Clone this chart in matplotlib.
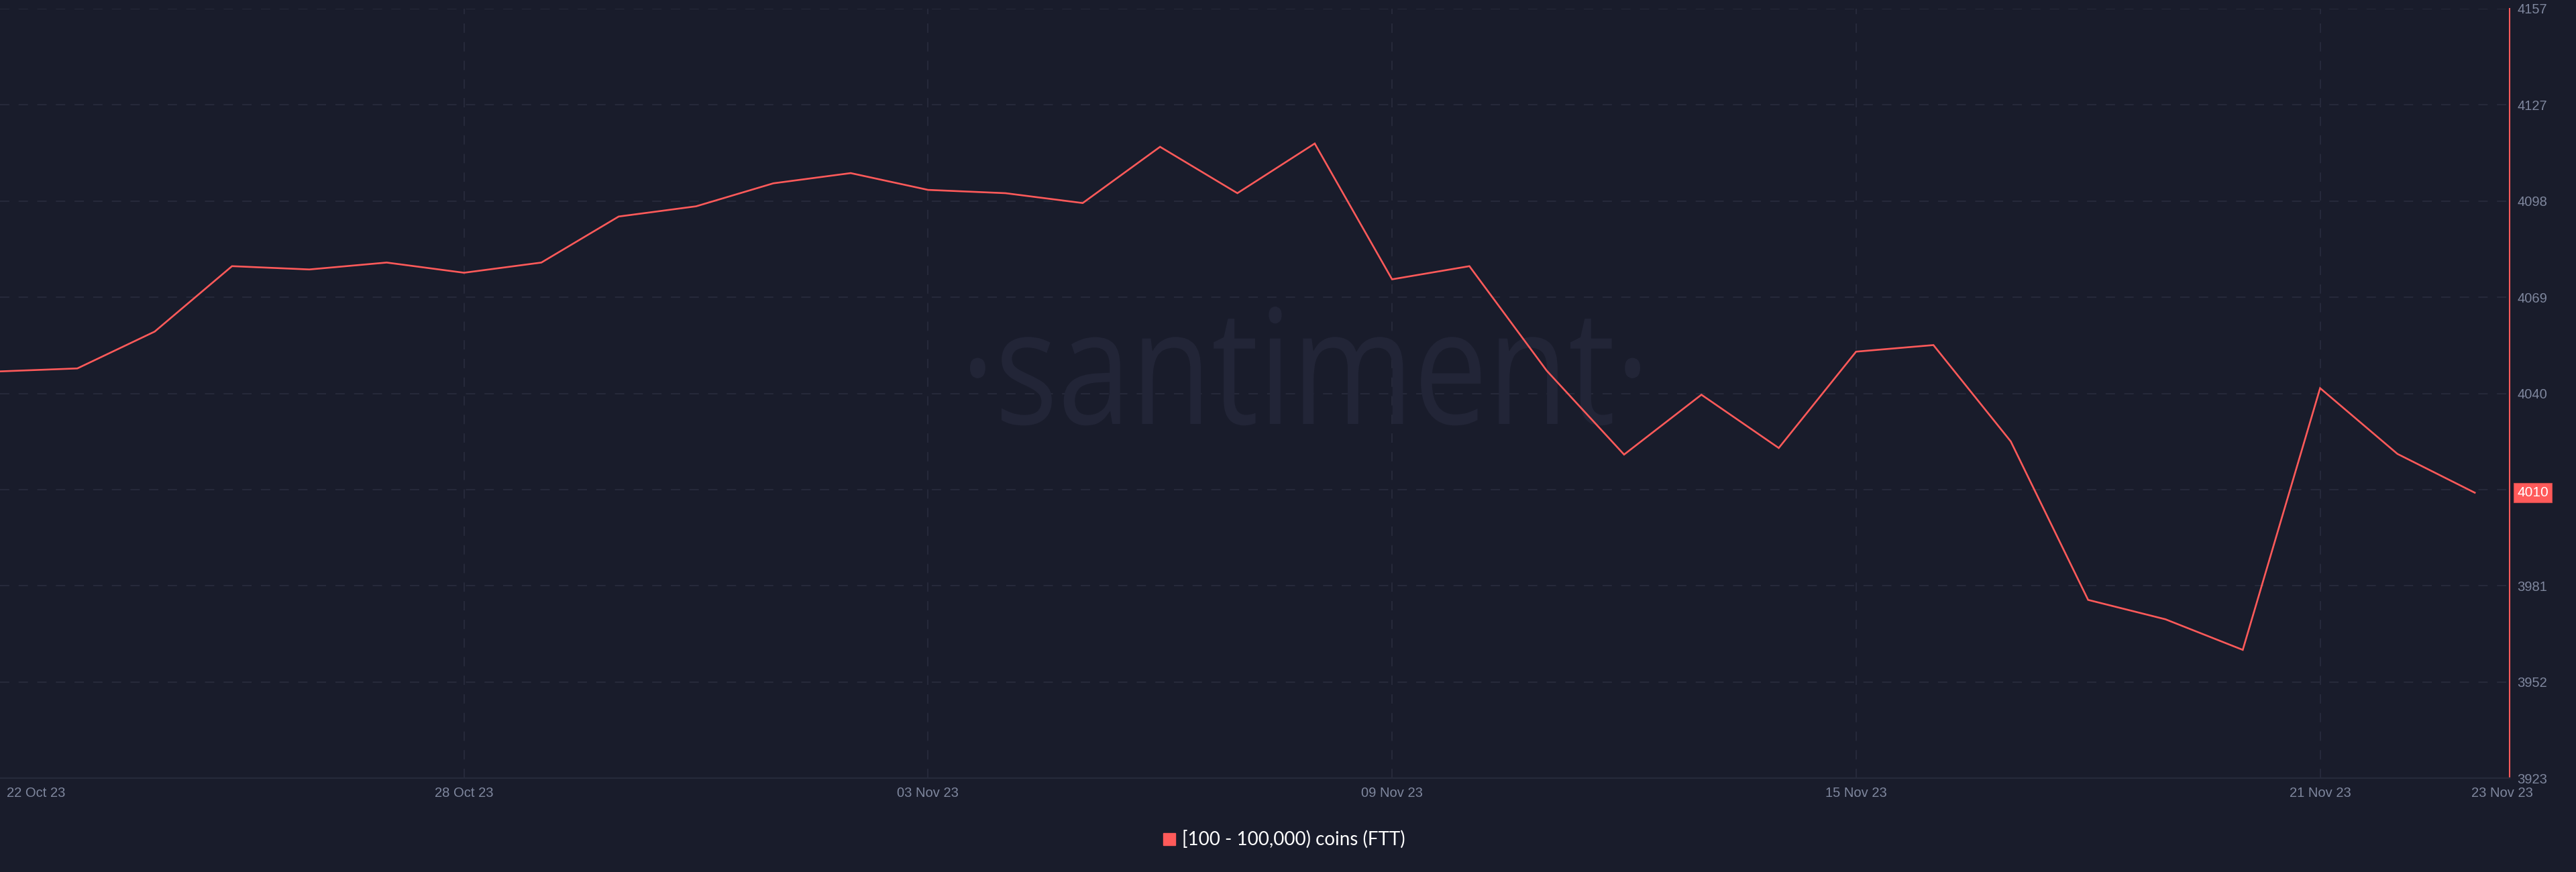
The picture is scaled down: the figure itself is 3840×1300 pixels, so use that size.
import numpy as np
import matplotlib
matplotlib.use("Agg")
import matplotlib.pyplot as plt
import matplotlib.dates as mdates
from matplotlib.textpath import TextPath
from matplotlib.patches import PathPatch, Rectangle
from matplotlib.font_manager import FontProperties
from matplotlib.transforms import Affine2D, IdentityTransform, blended_transform_factory

# data: daily holders count, 22 Oct 23 .. 23 Nov 23
dates = np.arange(np.datetime64("2023-10-22"), np.datetime64("2023-11-24"))
holders = [4046.7, 4047.6, 4058.8, 4078.7, 4077.7, 4079.8, 4076.7, 4079.8,
           4093.8, 4096.9, 4103.9, 4107.0, 4101.9, 4100.9, 4097.9, 4115.0,
           4100.9, 4116.0, 4074.7, 4078.7, 4046.9, 4021.4, 4039.6, 4023.4,
           4052.7, 4054.7, 4025.4, 3977.2, 3971.3, 3962.0, 4041.6, 4021.6,
           4009.8]
series_label = "[100 - 100,000) coins (FTT)"
y_min, y_max = 3923, 4157
x_tick_dates = ["2023-10-28", "2023-11-03", "2023-11-09", "2023-11-15", "2023-11-21"]

BG = "#191c2b"
GRID = "#272a3b"
RED = "#ff5a5a"
TXT = "#7f879e"

plt.rcParams["lines.scale_dashes"] = False
W, H = 3840, 1300
fig = plt.figure(figsize=(W / 100, H / 100), dpi=100, facecolor=BG)
ax = fig.add_axes([0, 140 / H, 3741 / W, 1147 / H], facecolor=BG)
ax.set_axisbelow(True)

x = dates.astype("datetime64[D]").astype(object)
ax.plot(x, holders, color=RED, lw=1.9, zorder=3, solid_joinstyle="miter")

x0 = mdates.date2num(np.datetime64("2023-10-22"))
ax.set_xlim(x0, x0 + 32.45)
ax.set_ylim(y_min, y_max)

yt = np.linspace(y_min, y_max, 9)
ax.set_yticks(yt)
ax.set_yticklabels([str(int(np.floor(v))) for v in yt])
ax.yaxis.tick_right()
ax.tick_params(axis="y", length=0, pad=8, labelsize=14.5, labelcolor=TXT)
for lab in ax.get_yticklabels():
    lab.set_fontfamily("Liberation Sans")

xt = [mdates.date2num(np.datetime64(d)) for d in x_tick_dates]
ax.set_xticks(xt)
ax.xaxis.set_major_formatter(mdates.DateFormatter("%d %b %y"))
ax.tick_params(axis="x", length=0, pad=9, labelsize=14.5, labelcolor=TXT)
for lab in ax.get_xticklabels():
    lab.set_fontfamily("Liberation Sans")

ax.grid(True, color=GRID, lw=1.4, dashes=(10, 10))

for s in ["left", "top"]:
    ax.spines[s].set_visible(False)
ax.spines["bottom"].set_color("#262a3b")
ax.spines["bottom"].set_linewidth(1.6)
ax.spines["right"].set_color(RED)
ax.spines["right"].set_linewidth(1.5)

# first and last date labels
tr = blended_transform_factory(ax.transData, ax.transAxes)
ax.annotate("22 Oct 23", xy=(x0, 0), xycoords=tr, xytext=(7, -9),
            textcoords="offset points", ha="left", va="top", fontsize=14.5,
            color=TXT, family="Liberation Sans", annotation_clip=False)
ax.annotate("23 Nov 23", xy=(x0 + 32, 0), xycoords=tr, xytext=(29.5, -9),
            textcoords="offset points", ha="center", va="top", fontsize=14.5,
            color=TXT, family="Liberation Sans", annotation_clip=False)

# last value tag
ax.annotate(str(int(round(holders[-1]))), xy=(1, holders[-1]),
            xycoords=("axes fraction", "data"), xytext=(8, 0),
            textcoords="offset points", ha="left", va="center", fontsize=15,
            color="white", family="Liberation Sans", annotation_clip=False,
            zorder=6,
            bbox=dict(boxstyle="square,pad=0.25", fc=RED, ec="#c94848", lw=0.8))

# watermark
tp = TextPath((0, 0), "·santiment·", size=238, prop=FontProperties(family="Open Sans"))
bb = tp.get_extents()
sx = 999 / bb.width
wm = Affine2D().scale(sx, 1.0).translate(1446 - bb.x0 * sx, H - 632).transform_path(tp)
ax.add_artist(PathPatch(wm, facecolor="#222537", edgecolor="none",
                        transform=IdentityTransform(), zorder=1))

# legend at bottom
fig.patches.append(Rectangle((1734 / W, 1 - 1260 / H), 18 / W, 18 / H,
                             transform=fig.transFigure, color=RED))
fig.text(1762 / W, 1 - 1251 / H, series_label, ha="left", va="center",
         fontsize=20, color="white", family="Lato")

fig.savefig("out.png", dpi=100, facecolor=BG)
